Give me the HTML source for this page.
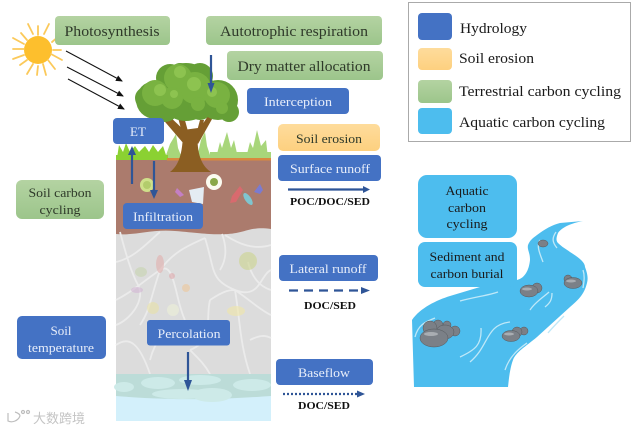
<!DOCTYPE html>
<html><head><meta charset="utf-8"><style>
html,body{margin:0;padding:0;background:#fff;width:635px;height:431px;overflow:hidden}
svg{display:block}
text{font-family:"Liberation Serif","Noto Serif CJK SC",serif;text-anchor:middle}
.w{fill:#e8eefa}.k{fill:#2f3a2a}.d{fill:#1a1a1a}
.b{font-weight:bold;font-size:11px;fill:#111}
.l{text-anchor:start;font-size:15px;fill:#1a1a1a}
</style></head><body>
<svg width="635" height="431" viewBox="0 0 635 431" xmlns="http://www.w3.org/2000/svg">
<defs>
<linearGradient id="g" x1="0" y1="0" x2="0" y2="1"><stop offset="0" stop-color="#b4d3a2"/><stop offset="1" stop-color="#9cc58b"/></linearGradient>
<linearGradient id="o" x1="0" y1="0" x2="0" y2="1"><stop offset="0" stop-color="#fedc9c"/><stop offset="1" stop-color="#fdd07f"/></linearGradient>
<marker id="a" markerWidth="7" markerHeight="6" refX="6" refY="3" orient="auto" markerUnits="userSpaceOnUse"><path d="M0 0L7 3L0 6Z" fill="#111"/></marker>
</defs>

<!-- soil column -->
<rect x="116" y="158" width="155" height="72" fill="#ab7b6d"/>
<rect x="116" y="228" width="155" height="147" fill="#dcdcdc"/>
<path d="M116 234C135 236 150 229 175 231S210 235 228 234 250 226 271 229V222H116Z" fill="#ab7b6d"/>
<g fill="none" stroke="#ebebeb" stroke-width="1.800">
<path d="M116 262C135 258 150 240 160 232M160 270C175 250 190 245 205 238M116 300C135 290 145 280 160 270S175 300 185 320M205 238C215 270 210 280 235 290S260 275 271 270M225 235C240 245 255 250 271 245M210 300C225 290 230 290 235 290M116 345C130 335 140 345 150 374M235 290C240 320 240 345 250 374M190 350C200 360 205 365 210 374M120 232C125 250 130 270 138 285S130 320 116 325M160 270C150 300 150 310 140 325M185 320C165 330 155 340 150 360M210 300C205 320 215 340 190 350M235 290C250 300 260 310 271 315M250 340C260 335 265 335 271 338M222 234C228 250 225 262 220 270M271 290C255 285 250 270 248 262"/>
</g>
<g opacity=".6">
<circle cx="248" cy="261" r="9" fill="#cdd58e"/>
<ellipse cx="160" cy="264" rx="4" ry="9" fill="#e2b0ae"/>
<circle cx="172" cy="276" r="3" fill="#dfa9ad"/>
<ellipse cx="186" cy="288" rx="4" ry="4" fill="#eec79a"/>
<ellipse cx="137" cy="290" rx="6" ry="3" fill="#d3b6d4"/>
<ellipse cx="153" cy="308" rx="6" ry="6" fill="#e9e2a8"/>
<circle cx="173" cy="310" r="6" fill="#edf0d8"/>
<ellipse cx="236" cy="311" rx="9" ry="5" fill="#f0e7a8"/>
<ellipse cx="141" cy="272" rx="6" ry="5" fill="#c8d4b0"/>
</g>
<rect x="116" y="374" width="155" height="47" fill="#d3f0fb"/>
<path d="M116 374H271V396C240 398 190 402 116 396Z" fill="#bcdcd8"/>
<g fill="#cdeae8"><ellipse cx="158" cy="383" rx="17" ry="6"/><ellipse cx="200" cy="380" rx="21" ry="5"/><ellipse cx="252" cy="385" rx="19" ry="6"/><ellipse cx="124" cy="387" rx="10" ry="5"/><ellipse cx="182" cy="394" rx="30" ry="5"/><ellipse cx="212" cy="395" rx="20" ry="7"/></g>

<!-- grass -->
<g fill="#a8d67a">
<path d="M165 158L170 144L176 134L178 148L182 158Z"/>
<path d="M197 158L201 140L205 132L207 146L211 158Z"/>
<path d="M216 158L220 142L222 148L227 132L231 148L234 140L238 158Z"/>
<path d="M246 158L250 142L253 148L257 130L261 146L266 140L268 158Z"/>
<rect x="210" y="152" width="61" height="6"/>
</g>
<g fill="#8bd132"><path d="M117 158L119 145L123 152L126 143L130 152L135 146L139 152L145 146L149 152L153 145L158 152L163 146L167 158Z"/><rect x="116" y="155" width="52" height="5"/></g>
<rect x="167" y="158" width="104" height="2.500" fill="#d8893e"/>

<!-- soil specks -->
<circle cx="147" cy="185" r="7" fill="#cfe08a"/><circle cx="147" cy="185" r="4" fill="#b3cc6c"/>
<circle cx="214" cy="182" r="8" fill="#fbfbf0"/><circle cx="214" cy="182" r="4" fill="#8aa848"/>
<path d="M177 188L184 195L180 197L175 192Z" fill="#c47fc4"/>
<path d="M189 190L204 187L203 204L192 202Z" fill="#e4ecf3"/>
<path d="M232 196L240 186L243 190L236 202L230 203Z" fill="#d86a6e"/>
<ellipse cx="248" cy="199" rx="3" ry="7" transform="rotate(-35 248 199)" fill="#7fc5cf"/>
<path d="M254 192L260 184L263 190L260 194Z" fill="#7b7bd0"/>

<!-- tree -->
<g fill="#8b5e22">
<path d="M170 172C178 166 183 155 183 130L198 128C196 150 200 165 211 172Z"/>
<path d="M184 144L160 116L166 113L186 132ZM177 114L183 113L189 135L183 136ZM194 137L212 110L216 112L198 144ZM196 135L200 120L204 120L200 138Z"/>
</g>
<g fill="#659f36">
<circle cx="186" cy="92" r="29"/><circle cx="155" cy="100" r="19"/><circle cx="218" cy="100" r="20"/><circle cx="229" cy="112" r="10"/><circle cx="146" cy="98" r="11"/><circle cx="170" cy="78" r="14"/><circle cx="200" cy="76" r="13"/><circle cx="165" cy="108" r="14"/><circle cx="200" cy="108" r="12"/><circle cx="180" cy="72" r="9"/>
</g>
<g fill="#79b241">
<circle cx="178" cy="78" r="14"/><circle cx="155" cy="93" r="13"/><circle cx="195" cy="88" r="16"/><circle cx="217" cy="95" r="13"/><circle cx="172" cy="98" r="11"/><circle cx="222" cy="108" r="6"/><circle cx="198" cy="104" r="7"/>
</g>
<g fill="#8dc350"><circle cx="180" cy="72" r="6"/><circle cx="160" cy="90" r="6"/><circle cx="194" cy="84" r="7"/><circle cx="212" cy="92" r="5"/><circle cx="174" cy="94" r="4"/></g>

<!-- sun -->
<circle cx="38" cy="50" r="14" fill="#fdbf2d"/>
<g stroke="#fbc95a" stroke-width="1.800" fill="none" stroke-linecap="round">
<path d="M38 26V35M28 24L33 34M21 33L27 40M13 38L24 44M13 49H24M13 59L24 55M20 65L27 60M27 74L33 64M37 75L38 66M46 75L43 64M55 69L48 60M62 60L51 54M61 50H53M58 37L52 42M49 24L44 34"/>
</g>

<!-- sun rays -->
<g stroke="#111" stroke-width="1" fill="none">
<line x1="66" y1="51" x2="122" y2="81" marker-end="url(#a)"/>
<line x1="67" y1="67" x2="123" y2="96" marker-end="url(#a)"/>
<line x1="68" y1="79" x2="124" y2="109" marker-end="url(#a)"/>
</g>

<!-- boxes -->
<g>
<rect x="55" y="16" width="115" height="29" rx="4" fill="url(#g)"/>
<rect x="206" y="16" width="176" height="29" rx="4" fill="url(#g)"/>
<rect x="227" y="51" width="156" height="29" rx="4" fill="url(#g)"/>
<rect x="16" y="180" width="88" height="39" rx="6" fill="url(#g)"/>
<rect x="278" y="124" width="102" height="27" rx="5" fill="url(#o)"/>
</g>
<g fill="#4472c4">
<rect x="247" y="88" width="102" height="26" rx="4"/>
<rect x="113" y="118" width="51" height="26" rx="4"/>
<rect x="278" y="155" width="103" height="26" rx="4"/>
<rect x="123" y="203" width="80" height="26" rx="4"/>
<rect x="279" y="255" width="99" height="26" rx="4"/>
<rect x="147" y="320" width="83" height="25.500" rx="3"/>
<rect x="17" y="316" width="89" height="43" rx="5"/>
<rect x="276" y="359" width="97" height="26" rx="4"/>
</g>

<!-- flow arrows -->
<g stroke="#2f5597" stroke-width="2.200" fill="none">
<line x1="211" y1="55" x2="211" y2="84"/>
<line x1="132" y1="184" x2="132" y2="153"/>
<line x1="154" y1="161" x2="154" y2="191"/>
<line x1="188" y1="352" x2="188" y2="382"/>
<line x1="288" y1="189.500" x2="364" y2="189.500"/>
<line x1="289" y1="290.500" x2="362" y2="290.500" stroke-dasharray="9 6"/>
<line x1="283" y1="394" x2="358" y2="394" stroke-dasharray="2 2"/>
</g>
<g fill="#2f5597">
<path d="M207.500 83H214.500L211 93Z"/><path d="M128 155H136L132 146Z"/><path d="M150 190H158L154 199Z"/><path d="M184 380H192L188 391Z"/>
<path d="M363 186L370 189.500L363 193Z"/><path d="M361 287L370 290.500L361 294Z"/><path d="M357 390.500L365 394L357 397.500Z"/>
</g>

<!-- river -->
<path d="M412 320C420 308 437 300 450 296L480 287L517 280C525 278 529 270 530 260C530 252 527 250 528 245C530 240 533 238 537 235C545 229 552 225 560 223L583 221C572 223 562 227 558 233C556 238 556 241 558 243C562 247 566 249 570 252C578 257 585 262 585 267C588 275 588 279 587 283C584 295 578 300 570 307L537 337C525 347 516 352 513 360C510 368 509 378 508 387H414Z" fill="#4dbdee"/>
<g fill="none" stroke="#bfe8f8" stroke-width="1.300">
<path d="M556 232C552 238 552 242 557 248M540 240C536 246 540 254 543 262M460 301C475 297 490 295 498 292M415 337C418 325 425 322 435 318M460 357C475 350 482 345 481 328M470 362C490 345 485 325 510 322M505 370C510 355 520 348 527 343M548 333C552 328 558 322 564 316M530 310C535 302 545 296 549 292M545 307C550 303 552 300 552 293M583 270C585 276 584 282 583 288"/>
</g>
<g fill="#7b8087" stroke="#55585c" stroke-width=".5">
<ellipse cx="543" cy="243.500" rx="5" ry="3.500"/>
<circle cx="568" cy="279" r="4"/><ellipse cx="573" cy="283" rx="9" ry="5.500"/>
<circle cx="537" cy="288" r="5"/><ellipse cx="529" cy="291" rx="9" ry="6"/>
<circle cx="524" cy="331" r="4"/><circle cx="517" cy="332" r="5"/><ellipse cx="511" cy="336" rx="9" ry="5.500"/>
<circle cx="455" cy="331" r="5"/><circle cx="447" cy="325" r="4"/><circle cx="438" cy="325" r="5"/><circle cx="430" cy="328" r="7"/><ellipse cx="445" cy="332" rx="9" ry="7"/><ellipse cx="434" cy="338" rx="14" ry="9"/>
</g>
<g fill="#a9adb2"><ellipse cx="431" cy="334" rx="7" ry="2"/><ellipse cx="571" cy="281" rx="5" ry="1.500"/><ellipse cx="527" cy="289" rx="5" ry="1.500"/><ellipse cx="509" cy="334" rx="5" ry="1.500"/></g>

<rect x="418" y="175" width="99" height="63" rx="9" fill="#4dbdee"/>
<rect x="418" y="242" width="99" height="45" rx="7" fill="#4dbdee"/>

<!-- legend -->
<rect x="408.500" y="2.500" width="222" height="139" fill="#fff" stroke="#aaaaaa"/>
<rect x="418" y="13" width="34" height="27" rx="4" fill="#4472c4"/>
<rect x="418" y="48" width="34" height="22" rx="4" fill="url(#o)"/>
<rect x="418" y="80" width="34" height="23" rx="4" fill="url(#g)"/>
<rect x="418" y="108" width="34" height="26" rx="4" fill="#4dbdee"/>
<text class="l" x="460" y="33" textLength="67" lengthAdjust="spacingAndGlyphs">Hydrology</text>
<text class="l" x="459" y="63" textLength="75" lengthAdjust="spacingAndGlyphs">Soil erosion</text>
<text class="l" x="459" y="96" textLength="162" lengthAdjust="spacingAndGlyphs">Terrestrial carbon cycling</text>
<text class="l" x="459" y="127" textLength="146" lengthAdjust="spacingAndGlyphs">Aquatic carbon cycling</text>

<!-- labels -->
<g font-size="15">
<text class="k" x="112" y="36" textLength="95" lengthAdjust="spacingAndGlyphs">Photosynthesis</text>
<text class="k" x="294" y="36" textLength="148" lengthAdjust="spacingAndGlyphs">Autotrophic respiration</text>
<text class="k" x="304" y="71" textLength="133" lengthAdjust="spacingAndGlyphs">Dry matter allocation</text>
</g>
<g font-size="13">
<text class="w" x="298" y="106" textLength="68" lengthAdjust="spacingAndGlyphs">Interception</text>
<text class="w" x="138" y="136">ET</text>
<text class="k" x="329" y="143" textLength="66" lengthAdjust="spacingAndGlyphs">Soil erosion</text>
<text class="w" x="330" y="173" textLength="80" lengthAdjust="spacingAndGlyphs">Surface runoff</text>
<text class="w" x="163" y="221" textLength="60" lengthAdjust="spacingAndGlyphs">Infiltration</text>
<text class="w" x="328" y="273" textLength="77" lengthAdjust="spacingAndGlyphs">Lateral runoff</text>
<text class="w" x="189" y="338" textLength="63" lengthAdjust="spacingAndGlyphs">Percolation</text>
<text class="w" x="324" y="377" textLength="52" lengthAdjust="spacingAndGlyphs">Baseflow</text>
<text class="k" x="60" y="197" textLength="63" lengthAdjust="spacingAndGlyphs">Soil carbon</text>
<text class="k" x="60" y="214" textLength="41" lengthAdjust="spacingAndGlyphs">cycling</text>
<text class="w" x="61" y="335">Soil</text>
<text class="w" x="61" y="352" textLength="66" lengthAdjust="spacingAndGlyphs">temperature</text>
<text class="d" x="467" y="195" textLength="43" lengthAdjust="spacingAndGlyphs">Aquatic</text>
<text class="d" x="467" y="212" textLength="38" lengthAdjust="spacingAndGlyphs">carbon</text>
<text class="d" x="467" y="228" textLength="41" lengthAdjust="spacingAndGlyphs">cycling</text>
<text class="d" x="467" y="261" textLength="75" lengthAdjust="spacingAndGlyphs">Sediment and</text>
<text class="d" x="467" y="278" textLength="73" lengthAdjust="spacingAndGlyphs">carbon burial</text>
</g>
<text class="b" x="330" y="205" textLength="80" lengthAdjust="spacingAndGlyphs">POC/DOC/SED</text>
<text class="b" x="330" y="309" textLength="52" lengthAdjust="spacingAndGlyphs">DOC/SED</text>
<text class="b" x="324" y="409" textLength="52" lengthAdjust="spacingAndGlyphs">DOC/SED</text>

<!-- watermark -->
<g fill="none" stroke="#bdbdbd" stroke-width="1.200"><path d="M8 413V421C12 423 18 421 20 416M15 412C18 413 20 414 20 416"/><circle cx="23" cy="412" r="1.500"/><circle cx="28" cy="412" r="1.500"/></g>
<text x="59" y="423" font-size="13" fill="#c4c4c4" style="font-family:'Liberation Sans','Noto Sans CJK SC',sans-serif" textLength="52" lengthAdjust="spacingAndGlyphs">大数跨境</text>
</svg>
</body></html>
